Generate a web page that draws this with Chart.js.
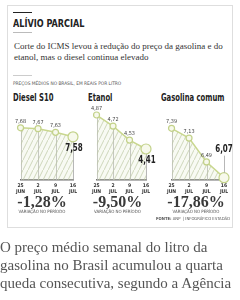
<!DOCTYPE html>
<html>
<head>
<meta charset="utf-8">
<script src="https://cdn.jsdelivr.net/npm/chart.js@4/dist/chart.umd.min.js"></script>
<style>
    body { margin: 0; width: 240px; height: 300px; overflow: hidden; background: #fff; position: relative; }
    .card { position: absolute; left: 7px; top: 5px; width: 226px; height: 223px; border: 1px solid #dedede; box-sizing: border-box; }
    .abs { position: absolute; white-space: nowrap; }
    .rule { position: absolute; height: 1px; }
    .headline { font-family: 'DejaVu Sans Condensed', sans-serif; font-weight: bold; font-size: 10px; color: #222; transform: scaleX(0.9); transform-origin: left top; }
    .lead { font-family: 'Liberation Serif', serif; font-size: 9px; line-height: 11px; color: #333; }
    .tiny { font-family: 'DejaVu Sans Condensed', sans-serif; font-size: 4.8px; color: #555; }
    .fuel { font-family: 'DejaVu Sans Condensed', sans-serif; font-weight: bold; font-size: 10px; color: #222; transform: scaleX(0.76); transform-origin: left top; }
    .pct { font-family: 'Liberation Serif', serif; font-weight: bold; font-size: 16px; color: #3a3a3a; text-align: center; }
    .pctnote { font-family: 'DejaVu Sans Condensed', sans-serif; font-size: 4.4px; color: #555; text-align: center; }
    .body { font-family: 'Liberation Serif', serif; font-size: 15px; line-height: 18px; color: #555; }
    canvas { position: absolute; }
</style>
</head>
<body>
<div class="card"></div>
<div class="rule" style="left:13px;top:12px;width:19px;background:#222;"></div>
<div class="abs headline" style="left:13px;top:18px;">ALÍVIO PARCIAL</div>
<div class="rule" style="left:13px;top:32px;width:19px;background:#bbb;"></div>
<div class="abs lead" style="left:14px;top:41px;">Corte do ICMS levou à redução do preço da gasolina e do<br>etanol, mas o diesel continua elevado</div>
<div class="rule" style="left:13px;top:75px;width:19px;background:#ccc;"></div>
<div class="abs tiny" style="left:13px;top:81px;">PREÇOS MÉDIOS NO BRASIL, EM REAIS POR LITRO</div>
<div id="titles"></div>
<canvas id="c0"></canvas>
<canvas id="c1"></canvas>
<canvas id="c2"></canvas>
<div id="notes"></div>
<div class="abs tiny" style="right:10px;top:216px;font-size:4.2px;"><b>FONTE:</b> ANP &nbsp;| INFOGRÁFICO ESTADÃO</div>
<div class="abs body" style="left:0px;top:238px;">O preço médio semanal do litro da<br>gasolina no Brasil acumulou a quarta<br>queda consecutiva, segundo a Agência</div>

<script>
// Data
const dates = [['25', 'JUN'], ['2', 'JUL'], ['9', 'JUL'], ['16', 'JUL']];
const fuelNames = ['Diesel S10', 'Etanol', 'Gasolina comum'];
const dieselValues = [7.68, 7.67, 7.63, 7.58];
const etanolValues = [4.87, 4.72, 4.53, 4.41];
const gasolinaValues = [7.39, 7.13, 6.49, 6.07];
const variations = ['-1,28%', '-9,50%', '-17,86%'];

const colors = {
    line: '#c9d78f',
    point: '#c3d28a',
    pointFill: '#f7f9ec',
    hatch: '#bcc7a2',
    stem: '#a5a5a5',
    base: '#6f6f6f',
    text: '#333333'
};

const narrow = '"DejaVu Sans Condensed", sans-serif';

// Panel layout (canvas placement, y range, label style)
const panels = [
    { values: dieselValues, left: 13, width: 74, min: 7.10, max: 7.90, lastLabel: 'below', titleX: 13, pctShift: -4 },
    { values: etanolValues, left: 89, width: 71, min: 3.99, max: 4.965, lastLabel: 'below', titleX: 88, pctShift: -3 },
    { values: gasolinaValues, left: 164, width: 74, min: 6.008, max: 7.933, lastLabel: 'above', titleX: 161, pctShift: -1 }
];

function fmt(v) {
    return v.toFixed(2).replace('.', ',');
}

// Diagonal hatch pattern for the area under the line
function makeHatch() {
    const c = document.createElement('canvas');
    c.width = 5;
    c.height = 10;
    const g = c.getContext('2d');
    g.fillStyle = 'rgba(232, 238, 214, 0.3)';
    g.fillRect(0, 0, 5, 10);
    g.strokeStyle = colors.hatch;
    g.lineWidth = 0.7;
    g.beginPath();
    g.moveTo(-1, 12);
    g.lineTo(6, -2);
    g.stroke();
    return g.createPattern(c, 'repeat');
}

// Condensed text: draw horizontally squeezed
function squeezed(ctx, text, x, y, sx) {
    ctx.save();
    ctx.translate(x, y);
    ctx.scale(sx, 1);
    ctx.fillText(text, 0, 0);
    ctx.restore();
}

// Stems from each point down to the baseline, and value labels
const stemsAndLabels = {
    id: 'stemsAndLabels',
    beforeDatasetsDraw(chart) {
        const ctx = chart.ctx;
        const meta = chart.getDatasetMeta(0);
        const bottom = chart.scales.y.bottom;
        ctx.save();
        ctx.strokeStyle = colors.stem;
        ctx.lineWidth = 0.8;
        meta.data.forEach(pt => {
            ctx.beginPath();
            ctx.moveTo(Math.round(pt.x) + 0.5, pt.y);
            ctx.lineTo(Math.round(pt.x) + 0.5, bottom);
            ctx.stroke();
        });
        ctx.restore();
    },
    afterDatasetsDraw(chart, args, opts) {
        const ctx = chart.ctx;
        const meta = chart.getDatasetMeta(0);
        const values = chart.data.datasets[0].data;
        const n = values.length;
        ctx.save();
        ctx.textAlign = 'center';
        meta.data.forEach((pt, i) => {
            if (i < n - 1) {
                ctx.font = '5.5px ' + narrow;
                ctx.fillStyle = '#444';
                ctx.textBaseline = 'bottom';
                ctx.fillText(fmt(values[i]), pt.x, pt.y - 3.5);
            } else {
                ctx.font = 'bold 11px ' + narrow;
                ctx.fillStyle = '#222';
                if (opts.lastLabel === 'below') {
                    ctx.textBaseline = 'top';
                    squeezed(ctx, fmt(values[i]), pt.x + 1, pt.y + 6, 0.72);
                } else {
                    ctx.textBaseline = 'bottom';
                    squeezed(ctx, fmt(values[i]), pt.x, pt.y - 23, 0.72);
                    ctx.strokeStyle = colors.stem;
                    ctx.lineWidth = 0.8;
                    ctx.beginPath();
                    ctx.moveTo(Math.round(pt.x) + 0.5, pt.y - 22);
                    ctx.lineTo(Math.round(pt.x) + 0.5, pt.y - 5);
                    ctx.stroke();
                }
            }
        });
        ctx.restore();
    }
};

const hatch = makeHatch();

panels.forEach((p, k) => {
    const canvas = document.getElementById('c' + k);
    canvas.width = p.width;
    canvas.height = 96;
    canvas.style.left = p.left + 'px';
    canvas.style.top = '100px';

    new Chart(canvas, {
        type: 'line',
        data: {
            labels: dates,
            datasets: [{
                data: p.values,
                borderColor: colors.line,
                borderWidth: 1.5,
                backgroundColor: hatch,
                fill: 'start',
                tension: 0,
                pointRadius: p.values.map((v, i) => i === p.values.length - 1 ? 5 : 3),
                pointBorderWidth: 1.2,
                pointBorderColor: colors.point,
                pointBackgroundColor: colors.pointFill,
                clip: false
            }]
        },
        options: {
            responsive: false,
            animation: false,
            layout: { padding: { left: 6, right: 14, top: 8, bottom: 0 } },
            plugins: {
                legend: { display: false },
                tooltip: { enabled: false },
                stemsAndLabels: { lastLabel: p.lastLabel }
            },
            scales: {
                x: {
                    offset: false,
                    grid: { display: false, drawTicks: false },
                    border: { display: true, color: colors.base, width: 1.5 },
                    ticks: {
                        color: colors.text,
                        font: { family: narrow, size: 5, weight: 'bold', lineHeight: 1.2 },
                        padding: 3,
                        maxRotation: 0,
                        autoSkip: false
                    },
                    afterFit: s => { s.height = 16; }
                },
                y: {
                    display: false,
                    min: p.min,
                    max: p.max
                }
            }
        },
        plugins: [stemsAndLabels]
    });

    const t = document.createElement('div');
    t.className = 'abs fuel';
    t.style.left = p.titleX + 'px';
    t.style.top = '92px';
    t.textContent = fuelNames[k];
    document.getElementById('titles').appendChild(t);

    const center = p.left + 6 + (p.width - 20) / 2 + p.pctShift;
    const pct = document.createElement('div');
    pct.className = 'abs pct';
    pct.style.left = (center - 40) + 'px';
    pct.style.width = '80px';
    pct.style.top = '193px';
    pct.textContent = variations[k];
    document.getElementById('notes').appendChild(pct);

    const note = document.createElement('div');
    note.className = 'abs pctnote';
    note.style.left = (center - 40) + 'px';
    note.style.width = '80px';
    note.style.top = '209px';
    note.textContent = 'VARIAÇÃO NO PERÍODO';
    document.getElementById('notes').appendChild(note);
});
</script>
</body>
</html>
